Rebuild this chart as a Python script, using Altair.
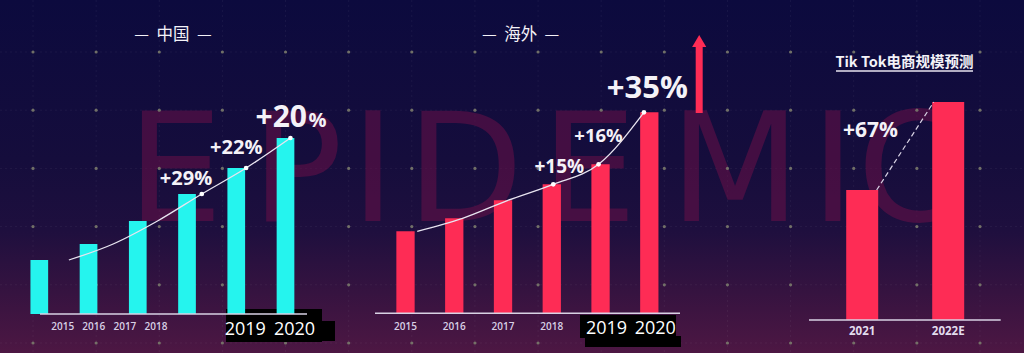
import altair as alt
import pandas as pd

# ---------------- data ----------------
years = ["2015", "2016", "2017", "2018", "2019", "2020"]
china_values = [54, 70, 93, 120, 146, 176]
china_growth = ["", "", "", "+29%", "+22%", "+20%"]
overseas_values = [82, 95, 113, 129, 149, 201]
overseas_growth = ["", "", "", "+15%", "+16%", "+35%"]
tt_years = ["2021", "2022E"]
tt_values = [130, 218]
tt_growth = ["", "+67%"]

watermark_letters = list("EPIDEMIC")
grid_cols = list(range(16))
grid_rows = list(range(6))

# ---------------- style ----------------
W, H = 1024, 353
CYAN = "#25F4EE"
RED = "#FE2C55"
WHITE = "#f4f2f8"
LIGHT = "#d8d0e6"
NUM_FONT = "Open Sans"
CJK_FONT = "Noto Sans CJK SC"
NB = "\u00a0"
watermark_px = [175, 297, 373, 465, 589, 735, 833, 910]

one = pd.DataFrame({"a": [1]})

def deco(df=one):
    return alt.Chart(df)

# background gradient
bg = deco().mark_rect(
    color={
        "gradient": "linear", "x1": 0, "y1": 0, "x2": 0, "y2": 1,
        "stops": [
            {"offset": 0.0, "color": "#0c0a3e"},
            {"offset": 0.45, "color": "#150d3c"},
            {"offset": 0.65, "color": "#1e0f3e"},
            {"offset": 0.83, "color": "#361340"},
            {"offset": 1.0, "color": "#4d1743"},
        ],
    }
).encode(x=alt.value(0), x2=alt.value(W), y=alt.value(0), y2=alt.value(H))

# dot grid
gx_scale = alt.Scale(domain=[0, 15], range=[33, 980])
gy_scale = alt.Scale(domain=[0, 5], range=[52, 343])
gcols = pd.DataFrame({"gx": grid_cols})
grows = pd.DataFrame({"gy": grid_rows})
gpts = pd.DataFrame([{"gx": c, "gy": r} for c in grid_cols for r in grid_rows])

vlines = alt.Chart(gcols).mark_rule(color="#ffffff", opacity=0.05, strokeDash=[2, 3]).encode(
    x=alt.X("gx:Q", scale=gx_scale, axis=None), y=alt.value(0), y2=alt.value(H))
hlines = alt.Chart(grows).mark_rule(color="#ffffff", opacity=0.05, strokeDash=[2, 3]).encode(
    y=alt.Y("gy:Q", scale=gy_scale, axis=None), x=alt.value(0), x2=alt.value(W))
dots = alt.Chart(gpts).mark_circle(color="#7a7a6c", size=10, opacity=0.9).encode(
    x=alt.X("gx:Q", scale=gx_scale, axis=None),
    y=alt.Y("gy:Q", scale=gy_scale, axis=None))

# watermark
wm_df = pd.DataFrame({"ch": watermark_letters, "px": watermark_px})
watermark = alt.Chart(wm_df).mark_text(
    font="DejaVu Sans", fontSize=152, align="center", baseline="alphabetic",
    color="#6a1048", opacity=0.55
).encode(x=alt.X("px:Q", scale=None, axis=None), y=alt.value(221), text="ch:N")

# ---------------- panel 1: China ----------------
df1 = pd.DataFrame({"i": range(6), "year": years, "v": china_values, "g": china_growth})
xs1 = alt.Scale(domain=[0, 5], range=[34.3, 290.5])
ys1 = alt.Scale(domain=[0, 314], range=[314, 0])
X1 = alt.X("i:Q", scale=xs1, axis=None)
Y1 = alt.Y("v:Q", scale=ys1, axis=None)
b1 = alt.Chart(df1).encode(x=X1, y=Y1)
LX1 = alt.X("lx:Q", scale=xs1, axis=None)

p1 = alt.layer(
    deco().mark_rect(color="#000000").encode(x=alt.value(226), x2=alt.value(322), y=alt.value(309), y2=alt.value(342)),
    deco().mark_rect(color="#000000").encode(x=alt.value(316), x2=alt.value(335), y=alt.value(321), y2=alt.value(341)),
    b1.mark_bar(width=17.7, color=CYAN),
    deco().mark_rule(color="#d8d2e4", strokeWidth=1.5).encode(x=alt.value(40), x2=alt.value(307), y=alt.value(314)),
    b1.transform_calculate(lx="0.9*datum.i + 0.6").mark_line(
        color="#e8e4f0", strokeWidth=1.3, interpolate="monotone").encode(x=LX1),
    b1.transform_calculate(lx="0.9*datum.i + 0.6").transform_filter("datum.i >= 3").mark_circle(
        color="#ffffff", size=22, opacity=1).encode(x=LX1),
    b1.transform_filter("datum.i == 3").mark_text(
        font=NUM_FONT, fontWeight="bold", fontSize=20, color=WHITE, dx=-1, dy=-15, baseline="middle").encode(text="g:N"),
    b1.transform_filter("datum.i == 4").mark_text(
        font=NUM_FONT, fontWeight="bold", fontSize=20, color=WHITE, dx=0, dy=-20, baseline="middle").encode(text="g:N"),
    b1.transform_filter("datum.i == 5").transform_calculate(gn="replace(datum.g, '%', '')").mark_text(
        font=NUM_FONT, fontWeight="bold", fontSize=30, color=WHITE, dx=21.5, dy=-11, align="right",
        baseline="alphabetic").encode(text="gn:N"),
    b1.transform_filter("datum.i == 5").mark_text(
        font=NUM_FONT, fontWeight="bold", fontSize=20, color=WHITE, dx=23, dy=-11, align="left",
        baseline="alphabetic").encode(text=alt.value("%")),
    b1.transform_filter("datum.i >= 4").mark_text(
        font=NUM_FONT, fontSize=18, color="#ffffff", dx=9, baseline="middle").encode(
        y=alt.value(330), text="year:N"),
    deco().mark_text(font=CJK_FONT, fontSize=16.5, color=WHITE, baseline="middle").encode(
        x=alt.value(173), y=alt.value(35), text=alt.value("—" + NB * 2 + "中国" + NB * 2 + "—")),
)

small1 = alt.Chart(df1[df1["i"] < 4]).mark_text(
    font=NUM_FONT, fontSize=10, fontWeight=600, color=LIGHT, baseline="middle"
).encode(
    x=alt.X("year:O", scale=alt.Scale(type="point", domain=years[:4], range=[62.7, 156], padding=0), axis=None),
    y=alt.value(327), text="year:N")

# ---------------- panel 2: Overseas ----------------
df2 = pd.DataFrame({"i": range(6), "year": years, "v": overseas_values, "g": overseas_growth})
xs2 = alt.Scale(domain=[0, 5], range=[400.5, 654.3])
ys2 = alt.Scale(domain=[0, 313.3], range=[313.3, 0])
X2 = alt.X("i:Q", scale=xs2, axis=None)
Y2 = alt.Y("v:Q", scale=ys2, axis=None)
b2 = alt.Chart(df2).encode(x=X2, y=Y2)
LX2 = alt.X("lx:Q", scale=xs2, axis=None)

p2 = alt.layer(
    deco().mark_rect(color="#000000").encode(x=alt.value(580), x2=alt.value(676), y=alt.value(315), y2=alt.value(338)),
    deco().mark_rect(color="#000000").encode(x=alt.value(585), x2=alt.value(681), y=alt.value(336), y2=alt.value(347)),
    b2.mark_bar(width=18.3, color=RED),
    deco().mark_rule(color="#d8d2e4", strokeWidth=1.5).encode(x=alt.value(375), x2=alt.value(680), y=alt.value(313.3)),
    b2.transform_calculate(lx="0.93*datum.i + 0.24").mark_line(
        color="#e8e4f0", strokeWidth=1.3, interpolate="monotone").encode(x=LX2),
    b2.transform_calculate(lx="0.93*datum.i + 0.24").transform_filter("datum.i >= 3").mark_circle(
        color="#ffffff", size=22, opacity=1).encode(x=LX2),
    b2.transform_filter("datum.i == 3").mark_text(
        font=NUM_FONT, fontWeight="bold", fontSize=19, color=WHITE, dx=7.5, dy=-17, baseline="middle").encode(text="g:N"),
    b2.transform_filter("datum.i == 4").mark_text(
        font=NUM_FONT, fontWeight="bold", fontSize=18.5, color=WHITE, dx=-2, dy=-28, baseline="middle").encode(text="g:N"),
    b2.transform_filter("datum.i == 5").mark_text(
        font=NUM_FONT, fontWeight="bold", fontSize=31, color=WHITE, dx=-2, dy=-23, baseline="middle").encode(text="g:N"),
    b2.transform_filter("datum.i < 4").mark_text(
        font=NUM_FONT, fontSize=10, fontWeight=600, color=LIGHT, baseline="middle").encode(
        y=alt.value(326.7), text="year:N"),
    b2.transform_filter("datum.i >= 4").mark_text(
        font=NUM_FONT, fontSize=18, color="#ffffff", dx=6, baseline="middle").encode(
        y=alt.value(329.3), text="year:N"),
    deco().mark_text(font=CJK_FONT, fontSize=16.5, color=WHITE, baseline="middle").encode(
        x=alt.value(520.7), y=alt.value(35), text=alt.value("—" + NB * 2 + "海外" + NB * 2 + "—")),
    # red up arrow
    deco().mark_rule(color=RED, strokeWidth=7).encode(x=alt.value(699.2), y=alt.value(43), y2=alt.value(113)),
    deco().mark_point(shape="triangle-up", filled=True, color=RED, size=200, opacity=1).encode(
        x=alt.value(699.2), y=alt.value(41)),
)

# ---------------- panel 3: TikTok forecast ----------------
df3 = pd.DataFrame({"i": range(2), "year": tt_years, "v": tt_values, "g": tt_growth})
xs3 = alt.Scale(domain=[0, 1], range=[857.2, 953.2])
ys3 = alt.Scale(domain=[0, 320], range=[320, 0])
X3 = alt.X("i:Q", scale=xs3, axis=None)
Y3 = alt.Y("v:Q", scale=ys3, axis=None)
b3 = alt.Chart(df3).encode(x=X3, y=Y3)

p3 = alt.layer(
    b3.mark_bar(width=32, color=RED),
    deco().mark_rule(color="#d8d2e4", strokeWidth=1.5).encode(x=alt.value(809), x2=alt.value(1000.7), y=alt.value(320)),
    b3.transform_calculate(lx="datum.i == 0 ? 0.168 : 0.832").mark_line(
        color="#d8d2e4", strokeWidth=1.2, strokeDash=[5, 3]).encode(x=alt.X("lx:Q", scale=xs3, axis=None)),
    b3.transform_filter("datum.i == 1").mark_text(
        font=NUM_FONT, fontWeight="bold", fontSize=21, color=WHITE, dx=-77.7, dy=29.4, baseline="middle").encode(text="g:N"),
    b3.mark_text(font=NUM_FONT, fontSize=11.5, fontWeight="bold", color="#e2dcee", baseline="middle").encode(
        y=alt.value(331.7), text="year:N"),
    deco().mark_text(font=CJK_FONT, fontSize=14.5, fontWeight="bold", color=WHITE, baseline="middle").encode(
        x=alt.value(904.5), y=alt.value(63), text=alt.value("Tik Tok电商规模预测")),
    deco().mark_rule(color="#e8e4f0", strokeWidth=1.5).encode(x=alt.value(836), x2=alt.value(973), y=alt.value(71)),
)

chart = alt.layer(
    bg, vlines, hlines, watermark, dots, p1, small1, p2, p3
).resolve_scale(
    x="independent", y="independent"
).properties(
    width=W, height=H, padding=0, autosize=alt.AutoSizeParams(type="none"),
    background="#150d3c"
).configure_view(stroke=None)

chart.save("out.html", embed_options={"renderer": "svg", "actions": False})
